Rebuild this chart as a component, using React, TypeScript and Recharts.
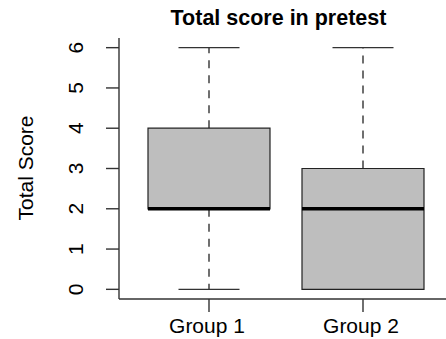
import React from "react";
import { ComposedChart, Bar, XAxis, YAxis } from "recharts";

// box plot stats
const groups = ["Group 1", "Group 2"];
const mins = [0, 0];
const q1s = [2, 0];
const medians = [2, 2];
const q3s = [4, 3];
const maxs = [6, 6];
const yTicks = [0, 1, 2, 3, 4, 5, 6];

const data = groups.map((g, i) => ({
  group: g,
  lower: [mins[i], q1s[i]],
  box: [q1s[i], q3s[i]],
  upper: [q3s[i], maxs[i]],
  median: [medians[i], medians[i]],
}));

const FONT = '"Liberation Sans", Arial, Helvetica, sans-serif';
const INK = "#333";
const PAD = { left: 13, right: 6 };

function UpperWhisker(props: any) {
  const { x, y, width, height } = props;
  const cx = x + width / 2;
  return (
    <g>
      <line x1={cx} x2={cx} y1={y + height} y2={y} stroke={INK} strokeWidth={1.4} strokeDasharray="8 7" />
      <line x1={cx - width / 4} x2={cx + width / 4} y1={y} y2={y} stroke={INK} strokeWidth={1.4} />
    </g>
  );
}

function LowerWhisker(props: any) {
  const { x, y, width, height } = props;
  const cx = x + width / 2;
  const yb = y + height;
  return (
    <g>
      <line x1={cx} x2={cx} y1={y} y2={yb} stroke={INK} strokeWidth={1.4} strokeDasharray="8 7" />
      <line x1={cx - width / 4} x2={cx + width / 4} y1={yb} y2={yb} stroke={INK} strokeWidth={1.4} />
    </g>
  );
}

function MedianLine(props: any) {
  const { x, y, width } = props;
  return <line x1={x} x2={x + width} y1={y} y2={y} stroke="#000" strokeWidth={3.5} />;
}

function YTick({ x, y, payload }: any) {
  return (
    <text x={x} y={y} transform={`rotate(-90 ${x} ${y})`} textAnchor="middle" fontSize={21} fill="#000" fontFamily={FONT}>
      {payload.value}
    </text>
  );
}

function XTick({ x, y, payload }: any) {
  return (
    <text x={x - 2} y={y} dy={21} textAnchor="middle" fontSize={21} fill="#000" fontFamily={FONT}>
      {payload.value}
    </text>
  );
}

export default function App() {
  return (
    <div style={{ width: 446, height: 339, background: "#fff" }}>
      <style>{`body{margin:0}`}</style>
      <ComposedChart width={446} height={339} data={data} margin={{ top: 38, right: 0, bottom: 0, left: 0 }}>
        <text x={278.5} y={25} textAnchor="middle" fontSize={21.5} fontWeight="bold" fill="#000" fontFamily={FONT}>
          Total score in pretest
        </text>
        <text x={33} y={168} transform="rotate(-90 33 168)" textAnchor="middle" fontSize={21} fill="#000" fontFamily={FONT}>
          Total Score
        </text>
        <XAxis xAxisId="top" orientation="top" dataKey="group" height={0} tick={false} tickLine={false} padding={PAD} axisLine={{ stroke: INK, strokeWidth: 1.4 }} />
        <XAxis xAxisId="lo" dataKey="group" hide padding={PAD} />
        <XAxis xAxisId="up" dataKey="group" hide padding={PAD} />
        <XAxis xAxisId="med" dataKey="group" hide padding={PAD} />
        <XAxis
          xAxisId="box"
          dataKey="group"
          height={40}
          padding={PAD}
          tickSize={13}
          tickMargin={0}
          tick={<XTick />}
          axisLine={{ stroke: INK, strokeWidth: 1.4 }}
          tickLine={{ stroke: INK, strokeWidth: 1.4 }}
        />
        <YAxis
          width={119}
          type="number"
          domain={[-0.24, 6.24]}
          ticks={yTicks}
          interval={0}
          tickSize={13}
          tickMargin={23}
          tick={<YTick />}
          axisLine={{ stroke: INK, strokeWidth: 1.4 }}
          tickLine={{ stroke: INK, strokeWidth: 1.4 }}
        />
        <Bar xAxisId="lo" dataKey="lower" barSize={122} shape={<LowerWhisker />} isAnimationActive={false} />
        <Bar xAxisId="up" dataKey="upper" barSize={122} shape={<UpperWhisker />} isAnimationActive={false} />
        <Bar xAxisId="box" dataKey="box" barSize={122} fill="#bebebe" stroke="#222" strokeWidth={1.2} isAnimationActive={false} />
        <Bar xAxisId="med" dataKey="median" barSize={122} shape={<MedianLine />} isAnimationActive={false} />
      </ComposedChart>
    </div>
  );
}
